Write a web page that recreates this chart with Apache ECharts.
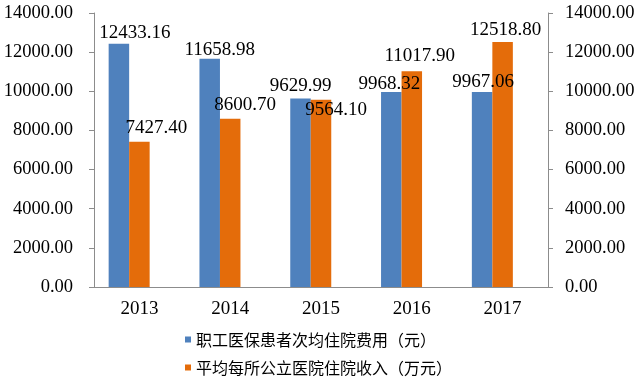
<!DOCTYPE html>
<html lang="zh">
<head>
    <meta charset="utf-8">
    <style>
        html, body { margin: 0; padding: 0; background: #fff; }
        #chart { width: 640px; height: 378px; }
    </style>
</head>
<body>
<div id="chart"></div>
<script src="https://cdn.jsdelivr.net/npm/echarts@6/dist/echarts.min.js"></script>
<script type="text/javascript">

// 数据
var years = ['2013', '2014', '2015', '2016', '2017'];
var seriesNames = ['职工医保患者次均住院费用（元）', '平均每所公立医院住院收入（万元）'];
var costPerStay = [12433.16, 11658.98, 9629.99, 9968.32, 9967.06];
var hospitalIncome = [7427.40, 8600.70, 9564.10, 11017.90, 12518.80];
var yTicks = { min: 0, max: 14000, interval: 2000 };

// 标签位置微调 (和原图对齐)
var blueLabelShift = [[16, -1], [10, 1], [0, -3], [-2, 2], [1, 0]];
var orangeLabelShift = [[17, -4], [15, -4], [15, 20], [8, -6], [3, -2]];

var numFont = 'Liberation Serif, Times New Roman, serif';
var axisColor = '#8c8c8c';

function withLabels(values, shifts) {
    return values.map(function (v, i) {
        return { value: v, label: { offset: shifts[i] } };
    });
}

function yAxis(pos, margin) {
    return {
        type: 'value',
        position: pos,
        min: yTicks.min,
        max: yTicks.max,
        interval: yTicks.interval,
        axisLine: { show: true, lineStyle: { color: axisColor } },
        axisTick: { show: true, length: 5, lineStyle: { color: axisColor } },
        splitLine: { show: false },
        axisLabel: {
            color: '#000',
            fontFamily: numFont,
            fontSize: 18.5,
            margin: margin,
            formatter: function (v) { return v.toFixed(2); }
        }
    };
}

var chart = echarts.init(document.getElementById('chart'));
var labelStyle = {
    show: true,
    position: 'top',
    distance: 0,
    color: '#000',
    fontFamily: numFont,
    fontSize: 19,
    formatter: function (p) { return p.value.toFixed(2); }
};

chart.setOption({
    animation: false,
    grid: { left: 94, right: 92, top: 13, bottom: 91 },
    legend: {
        data: seriesNames,
        orient: 'vertical',
        left: 185,
        top: 330,
        height: 70,
        padding: 0,
        itemWidth: 6,
        itemHeight: 6,
        itemGap: 9,
        icon: 'rect',
        textStyle: { fontFamily: 'Noto Sans CJK SC', fontSize: 16, color: '#000', lineHeight: 19 }
    },
    xAxis: {
        type: 'category',
        data: years,
        axisLine: { lineStyle: { color: axisColor } },
        axisTick: { length: 6, lineStyle: { color: axisColor } },
        axisLabel: { color: '#000', fontFamily: numFont, fontSize: 19, margin: 13 }
    },
    yAxis: [yAxis('left', 21), yAxis('right', 17)],
    series: [
        {
            name: seriesNames[0],
            type: 'bar',
            barWidth: 20.5,
            barGap: '0%',
            itemStyle: { color: '#4f81bd' },
            label: labelStyle,
            data: withLabels(costPerStay, blueLabelShift)
        },
        {
            name: seriesNames[1],
            type: 'bar',
            barWidth: 20.5,
            barGap: '0%',
            itemStyle: { color: '#e46c0a' },
            label: labelStyle,
            data: withLabels(hospitalIncome, orangeLabelShift)
        },
        {
            // 占位, 让两根柱子偏左
            name: 'spacer',
            type: 'bar',
            barWidth: 20.5,
            barGap: '0%',
            silent: true,
            data: years.map(function () { return null; })
        }
    ]
});

</script>
</body>
</html>
